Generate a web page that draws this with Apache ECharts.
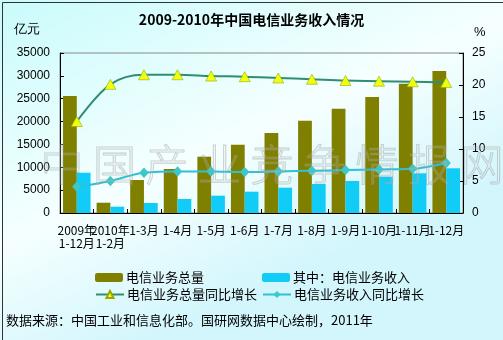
<!DOCTYPE html>
<html><head><meta charset="utf-8">
<script src="https://cdn.jsdelivr.net/npm/echarts@6/dist/echarts.min.js"></script>
<style>html,body{margin:0;padding:0;}#c{width:503px;height:340px;}</style>
</head><body><div id="c"></div>
<script>
var categories = ['2009年\n1-12月','2010年\n1-2月','1-3月','1-4月','1-5月','1-6月','1-7月','1-8月','1-9月','1-10月','1-11月','1-12月'];
var totalBusiness = [25600, 2250, 7220, 9620, 12320, 14950, 17500, 20200, 22820, 25380, 28290, 31060];
var businessRevenue = [8820, 1380, 2190, 3060, 3790, 4660, 5540, 6340, 7000, 7950, 8680, 9780];
var totalGrowth = [14.3, 20.1, 21.6, 21.6, 21.4, 21.3, 21.1, 20.9, 20.7, 20.6, 20.5, 20.4];
var revenueGrowth = [4.1, 5.0, 6.3, 6.5, 6.5, 6.4, 6.5, 6.6, 6.7, 6.8, 6.9, 7.8];
var seriesNames = ['电信业务总量','其中：电信业务收入','电信业务总量同比增长','电信业务收入同比增长'];

var chart = echarts.init(document.getElementById('c'), null, {renderer:'canvas'});
var font = '"Noto Sans CJK SC", "Liberation Sans", sans-serif';
function leg(name, left, top){
  return {data:[name], left:left, top:top, itemWidth:28, itemHeight:9, itemGap:0, padding:0,
    textStyle:{fontSize:13, color:'#000', fontFamily:font, padding:[0,0,0,-2]}};
}
chart.setOption({
  backgroundColor: {type:'linear', x:0, y:0, x2:0.3, y2:1, colorStops:[
    {offset:0, color:'#C9FBFB'},{offset:0.6, color:'#F6FFFF'},{offset:1, color:'#D2F6FC'}]},
  textStyle:{fontFamily:font},
  title:{text:'2009-2010年中国电信业务收入情况', left:'center', top:8,
    textStyle:{fontSize:14, fontWeight:'bold', color:'#000', fontFamily:font}},
  legend:[leg(seriesNames[0],95,271), leg(seriesNames[1],262,271), leg(seriesNames[2],95,288), leg(seriesNames[3],262,288)],
  grid:{left:60, right:40, top:53, bottom:127, show:true, borderColor:'#888', borderWidth:1, backgroundColor:'transparent'},
  xAxis:{type:'category', data:categories,
    axisLine:{lineStyle:{color:'#000'}},
    axisTick:{show:true, inside:true, length:4, lineStyle:{color:'#000'}},
    axisLabel:{interval:0, fontSize:12, color:'#000', margin:11, lineHeight:13, fontFamily:font}},
  yAxis:[
    {type:'value', min:0, max:35000, interval:5000,
      axisLine:{show:true, lineStyle:{color:'#000'}},
      axisTick:{show:true, inside:true, length:4, lineStyle:{color:'#000'}},
      splitLine:{show:false},
      axisLabel:{fontSize:12, color:'#000', margin:10, fontFamily:'"Liberation Sans", Arial, sans-serif',
        formatter:function(v){return String(v);}}},
    {type:'value', min:0, max:25, interval:5, position:'right',
      axisLine:{show:true, lineStyle:{color:'#000'}},
      axisTick:{show:true, inside:true, length:4, lineStyle:{color:'#000'}},
      splitLine:{show:false},
      axisLabel:{fontSize:12, color:'#000', margin:9, fontFamily:'"Liberation Sans", Arial, sans-serif'}}
  ],
  series:[
    {name:seriesNames[0], type:'bar', data:totalBusiness, barGap:'0%', barCategoryGap:'18%',
      itemStyle:{color:'#808000'}},
    {name:seriesNames[1], type:'bar', data:businessRevenue,
      itemStyle:{color:'#12CCF8'}},
    {name:seriesNames[2], type:'line', yAxisIndex:1, data:totalGrowth, smooth:0.35,
      symbol:'triangle', symbolSize:[11,10],
      lineStyle:{color:'#2E8E70', width:2},
      itemStyle:{color:'#EEFF10', borderColor:'#9aa800', borderWidth:0.6}},
    {name:seriesNames[3], type:'line', yAxisIndex:1, data:revenueGrowth, smooth:0.35,
      symbol:'diamond', symbolSize:[8,9],
      lineStyle:{color:'#2EC0D8', width:2},
      itemStyle:{color:'#3CC8C8', borderColor:'#3CC8C8'}}
  ],
  graphic:[
    {type:'text', left:14, top:23, style:{text:'亿元', fontSize:13, fill:'#000', font:'13px ' + font}},
    {type:'text', left:474, top:26, style:{text:'%', fontSize:13, fill:'#000', font:'13px "Liberation Sans", sans-serif'}},
    {type:'text', left:6, top:314, style:{text:'数据来源：中国工业和信息化部。国研网数据中心绘制，2011年', font:'13px ' + font, fill:'#000'}},
    {type:'text', left:40, top:143, z:100, silent:true,
      style:{text:'中 国 产 业 竞 争 情 报 网', font:'300 43px "Noto Sans CJK SC", sans-serif', fill:'rgba(255,255,255,0.1)', stroke:'rgba(150,150,150,0.45)', lineWidth:1.1}},
    {type:'rect', left:0, top:0, z:100, silent:true, shape:{x:0.5, y:0.5, width:502, height:339},
      style:{fill:'none', stroke:'#333', lineWidth:1}}
  ]
});
</script></body></html>
